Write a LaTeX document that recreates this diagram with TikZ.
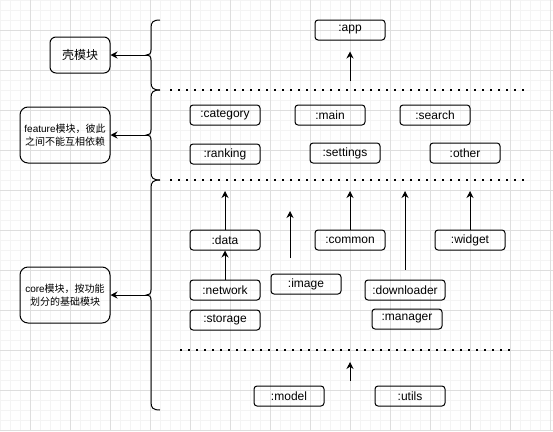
\documentclass[tikz,border=0pt]{standalone}
\usepackage{fontspec}
\setmainfont{Liberation Sans}
\newfontfamily\cjk{Noto Sans CJK SC}
\usepackage{tikz}
\usetikzlibrary{positioning, arrows.meta}

\definecolor{gridminor}{RGB}{244,244,244}
\definecolor{gridmajor}{RGB}{222,222,222}

% curly bracket at the left of a layer, #3 names its tip
\newcommand{\layerbrace}[3]{%
  \pgfmathsetmacro{\bracemid}{(#1+#2)/2}
  \draw (160,#1) .. controls (153,#1) and (151,#1+2) .. (151,#1+8)
    -- (151,\bracemid-5) .. controls (151,\bracemid-1) and (149,\bracemid) .. (146.5,\bracemid)
    .. controls (149,\bracemid) and (151,\bracemid+1) .. (151,\bracemid+5)
    -- (151,#2-8) .. controls (151,#2-2) and (153,#2) .. (160,#2);
  \coordinate (#3) at (146.5,\bracemid);
}

\begin{document}
\begin{tikzpicture}[x=1pt, y=-1pt, line width=1pt,
    >={Stealth[length=7pt, width=7pt]},
    module/.style = {draw, rounded corners=3pt, minimum width=70pt, minimum height=20pt,
                     inner sep=0pt, font=\fontsize{12pt}{14pt}\selectfont},
    layer/.style = {draw, rounded corners=8pt, minimum width=90pt, minimum height=56pt,
                    align=center, inner sep=0pt, font=\fontsize{10pt}{12.6pt}\selectfont},
    dotline/.style = {line width=2pt, dash pattern=on 2pt off 6pt}]
    \useasboundingbox (0,0) rectangle (553,431);
    % background grid
    \foreach \gx in {0,10,...,550} \draw [gridminor] (\gx,0) -- (\gx,431);
    \foreach \gy in {0,10,...,430} \draw [gridminor] (0,\gy) -- (553,\gy);
    \foreach \gx in {30,70,...,550} \draw [gridmajor] (\gx,0) -- (\gx,431);
    \foreach \gy in {30,70,...,430} \draw [gridmajor] (0,\gy) -- (553,\gy);

    % layer labels
    \node (shell) [layer, minimum width=60pt, minimum height=36pt, rounded corners=6pt,
                   font=\fontsize{12pt}{14pt}\selectfont] at (80,55) {\cjk 壳模块};
    \node (feature) [layer] at (65,135) {feature{\cjk 模块，彼此}\\{\cjk 之间不能互相依赖}};
    \node (core) [layer] at (65,295) {core{\cjk 模块，按功能}\\{\cjk 划分的基础模块}};

    \layerbrace{20}{90}{shelltip}
    \layerbrace{90}{180}{featuretip}
    \layerbrace{180}{410}{coretip}
    \draw [->] (shelltip) -- (shell);
    \draw [->] (featuretip) -- (feature);
    \draw [->] (coretip) -- (core);

    % layer separators
    \draw [dotline] (170,90) -- (525,90);
    \draw [dotline] (170,180) -- (525,180);
    \draw [dotline] (180,350) -- (511,350);

    % shell layer
    \node (app) [module] at (350,30) {:app};

    % feature layer
    \node (category) [module] at (225,115) {:category};
    \node (main) [module] at (330,115) {:main};
    \node (search) [module] at (435,115) {:search};
    \node (ranking) [module, below = 18pt of category] {:ranking};
    \node (settings) [module] at (345,153) {:settings};
    \node (other) [module] at (465,153) {:other};

    % core layer
    \node (data) [module] at (225,240) {:data};
    \node (common) [module] at (350,240) {:common};
    \node (widget) [module] at (470,240) {:widget};
    \node (image) [module] at (306,284) {:image};
    \node (network) [module] at (225,290) {:network};
    \node (storage) [module, below = 9pt of network] {:storage};
    \node (downloader) [module, minimum width=80pt] at (405,290) {:downloader};
    \node (manager) [module] at (407,319) {:manager};

    % base layer
    \node (model) [module] at (289,396) {:model};
    \node (utils) [module] at (410,396) {:utils};

    % dependencies
    \coordinate (appfrom) at (350,81);
    \coordinate (dataup) at (225,191);
    \coordinate (imagefrom) at (290,258);
    \coordinate (imageup) at (290,211);
    \coordinate (commonup) at (350,191);
    \coordinate (downloaderup) at (405,191);
    \coordinate (widgetup) at (470,191);
    \coordinate (basefrom) at (350,381);
    \coordinate (baseup) at (350,362);
    \draw [->, shorten >= 11pt] (appfrom) -- (app);
    \draw [->] (data) -- (dataup);
    \draw [->] (imagefrom) -- (imageup);
    \draw [->] (common) -- (commonup);
    \draw [->, shorten <= 10pt] (downloader) -- (downloaderup);
    \draw [->] (widget) -- (widgetup);
    \draw [->] (network) -- (data);
    \draw [->] (basefrom) -- (baseup);
\end{tikzpicture}
\end{document}
